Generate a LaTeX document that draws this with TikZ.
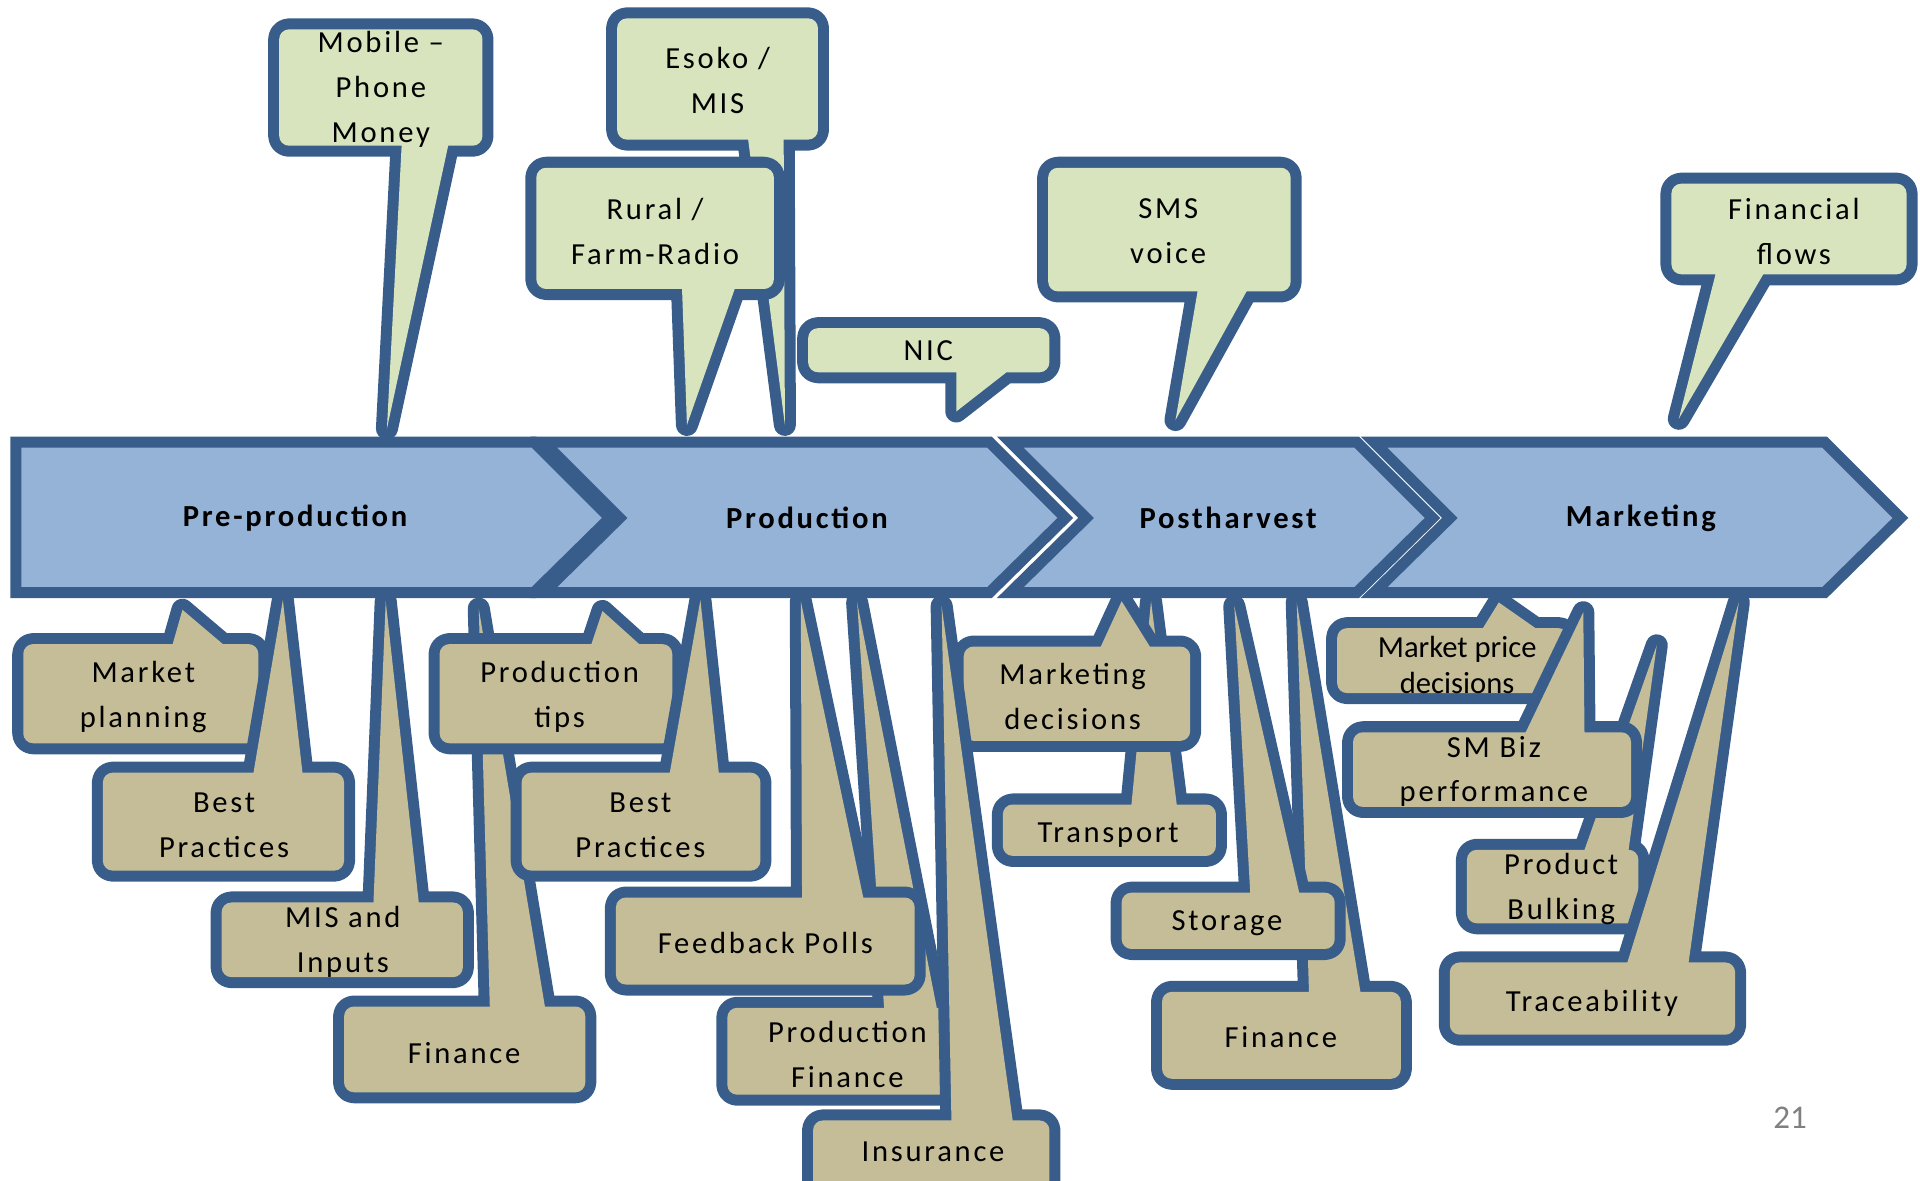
\documentclass[tikz,border=0pt]{standalone}
\usepackage{fontspec}
\setmainfont{Carlito}[LetterSpace=9]
\newfontfamily\plainfont{Carlito}
\usetikzlibrary{positioning}
\definecolor{edgeblue}{HTML}{385D8A}
\definecolor{bandblue}{HTML}{95B3D7}
\definecolor{callgreen}{HTML}{D7E4BD}
\definecolor{calltan}{HTML}{C4BD97}
\tikzset{
  chevron/.style={fill=bandblue,draw=edgeblue,line width=4.5pt},
  bandlabel/.style={font=\fontsize{12.5}{15}\selectfont\bfseries},
  greencall/.style={fill=callgreen,rounded corners=4pt,preaction={draw=edgeblue,line width=9pt,line join=round}},
  tancall/.style={fill=calltan,rounded corners=4pt,preaction={draw=edgeblue,line width=9pt,line join=round}},
  calltext/.style={inner sep=0pt,align=center,font=\fontsize{12.5}{18.25}\selectfont}
}

\begin{document}
\begin{tikzpicture}[x=0.5pt,y=-0.5pt]
        \useasboundingbox (0,0) rectangle (1568,964);
        \clip (0,0) rectangle (1568,964);
        % value chain
        \draw[chevron] (13,361) -- (436,361) -- (498,423) -- (436,484) -- (13,484) -- cycle;
        \draw[chevron] (444,361) -- (808,361) -- (870,423) -- (808,484) -- (444,484) -- (506,423) -- cycle;
        \draw[chevron] (825,361) -- (1108,361) -- (1170,423) -- (1108,484) -- (825,484) -- (887,423) -- cycle;
        \draw[chevron] (1122,361) -- (1490,361) -- (1552,423) -- (1490,484) -- (1122,484) -- (1184,423) -- cycle;
        \node[bandlabel] (preprod) at (241,423) {Pre-production};
        \node[bandlabel] (prod) at (659,423) {Production};
        \node[bandlabel] (posth) at (1003,423) {Postharvest};
        \node[bandlabel] (mkt) at (1340,423) {Marketing};
        % channels above
        \fill[greencall] (228,24) rectangle (394,119) [sharp corners] (328,119) -- (316,350) -- (366,119) -- cycle;
        \node[calltext] (mobile) at (311,73) {Mobile –\\Phone\\Money};
        \fill[greencall] (504,15) rectangle (668,114) [sharp corners] (611,114) -- (641,347) -- (640,114) -- cycle;
        \node[calltext] (esoko) at (586,66) {Esoko /\\MIS};
        \fill[greencall] (438,137) rectangle (632,236) [sharp corners] (557,236) -- (561,347) -- (600,236) -- cycle;
        \node[calltext] (radio) at (535,189) {Rural /\\Farm-Radio};
        \fill[greencall] (660,268) rectangle (857,304) [sharp corners] (781,304) -- (781,336) -- (822,304) -- cycle;
        \node[calltext] (nic) at (758,286) {NIC};
        \fill[greencall] (856,137) rectangle (1054,238) [sharp corners] (978,238) -- (960,343) -- (1018,238) -- cycle;
        \node[calltext] (sms) at (954,189) {SMS\\voice};
        \fill[greencall] (1365,150) rectangle (1557,224) [sharp corners] (1401,224) -- (1371,342) -- (1440,224) -- cycle;
        \node[calltext] (flows) at (1465,189) {Financial\\flows};
        % services below
        \fill[tancall] (19,526) rectangle (211,607) [sharp corners] (141,526) -- (149,498) -- (182,526) -- cycle;
        \node[calltext] (mplan) at (117,569) {Market\\planning};
        \fill[tancall] (84,631) rectangle (281,711) [sharp corners] (207,631) -- (231,490) -- (247,631) -- cycle;
        \node[calltext] (best1) at (183,674) {Best\\Practices};
        \fill[tancall] (181,737) rectangle (378,798) [sharp corners] (305,737) -- (315,491) -- (342,737) -- cycle;
        \node[calltext] (mis) at (280,769) {MIS and\\Inputs};
        \fill[tancall] (281,822) rectangle (478,892) [sharp corners] (400,822) -- (391,497) -- (445,822) -- cycle;
        \node[calltext] (fin1) at (379,860) {Finance};
        \fill[tancall] (359,526) rectangle (549,607) [sharp corners] (483,526) -- (492,499) -- (522,526) -- cycle;
        \node[calltext] (tips) at (457,569) {Production\\tips};
        \fill[tancall] (426,631) rectangle (621,711) [sharp corners] (547,631) -- (572,490) -- (587,631) -- cycle;
        \node[calltext] (best2) at (523,674) {Best\\Practices};
        \fill[tancall] (594,823) rectangle (776,894) [sharp corners] (722,823) -- (700,492) -- (765,823) -- cycle;
        \node[calltext] (pfin) at (692,861) {Production\\Finance};
        \fill[tancall] (503,733) rectangle (747,804) [sharp corners] (655,733) -- (654,491) -- (705,733) -- cycle;
        \node[calltext] (polls) at (625,770) {Feedback Polls};
        \fill[tancall] (819,657) rectangle (993,699) [sharp corners] (924,657) -- (940,491) -- (961,657) -- cycle;
        \node[calltext] (transp) at (905,682) {Transport};
        \fill[tancall] (787,528) rectangle (972,605) [sharp corners] (899,528) -- (916,491) -- (939,528) -- cycle;
        \node[calltext] (mdec) at (876,569) {Marketing\\decisions};
        \fill[tancall] (664,915) rectangle (857,990) [sharp corners] (777,915) -- (769,495) -- (827,915) -- cycle;
        \node[calltext] (insur) at (762,941) {Insurance};
        \fill[tancall] (949,810) rectangle (1144,881) [sharp corners] (1069,810) -- (1059,492) -- (1111,810) -- cycle;
        \node[calltext] (fin2) at (1046,847) {Finance};
        \fill[tancall] (916,729) rectangle (1090,775) [sharp corners] (1021,729) -- (1008,495) -- (1061,729) -- cycle;
        \node[calltext] (store) at (1002,754) {Storage};
        \fill[tancall] (1092,513) rectangle (1281,566) [sharp corners] (1211,513) -- (1224,492) -- (1254,513) -- cycle;
        \node[calltext,font=\plainfont\fontsize{12.5}{14.5}\selectfont] (mprice) at (1190,543) {Market price\\decisions};
        \fill[tancall] (1198,694) rectangle (1338,754) [sharp corners] (1294,694) -- (1353,527) -- (1330,694) -- cycle;
        \node[calltext] (bulk) at (1275,726) {Product\\Bulking};
        \fill[tancall] (1105,598) rectangle (1332,659) [sharp corners] (1246,598) -- (1293,500) -- (1294,598) -- cycle;
        \node[calltext] (smbiz) at (1220,630) {SM Biz\\performance};
        \fill[tancall] (1184,786) rectangle (1417,845) [sharp corners] (1329,786) -- (1420,492) -- (1379,786) -- cycle;
        \node[calltext] (trace) at (1300,819) {Traceability};
        % slide number
        \node[font=\plainfont\fontsize{13.5}{16}\selectfont,text=black!50] (pagenum) at (1462,913) {21};
    \end{tikzpicture}
\end{document}
